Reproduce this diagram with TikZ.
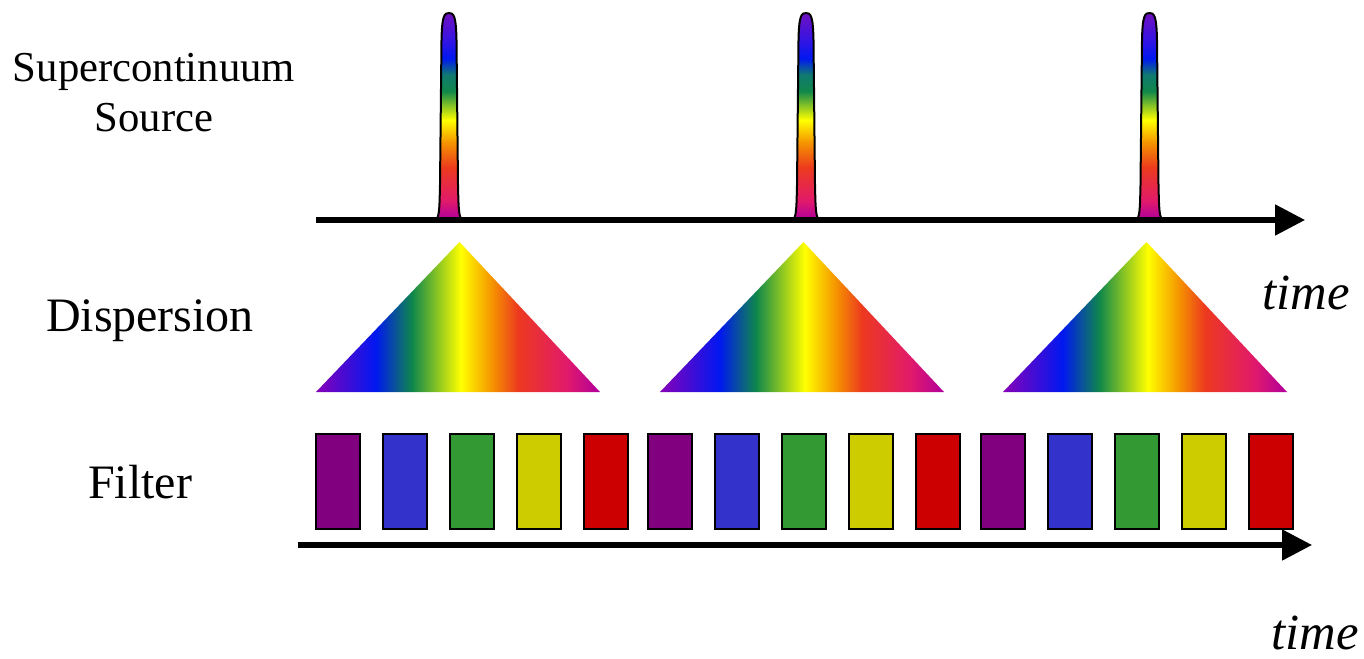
\documentclass[tikz,border=0pt]{standalone}
\usepackage{fontspec}
\setmainfont{Liberation Serif}
\newfontfamily\timesface{Liberation Serif}
\usetikzlibrary{arrows.meta}
\definecolor{fpurple}{HTML}{800080}
\definecolor{fblue}{HTML}{3333CC}
\definecolor{fgreen}{HTML}{339933}
\definecolor{fyellow}{HTML}{CCCC00}
\definecolor{fred}{HTML}{CC0000}
\definecolor{sviolet}{HTML}{8800B8}
\definecolor{sblue}{HTML}{0018F0}
\definecolor{steal}{HTML}{107A70}
\definecolor{sgreen}{HTML}{10884A}
\definecolor{syellow}{HTML}{FFFF00}
\definecolor{sorange}{HTML}{F59300}
\definecolor{sred}{HTML}{EC3A1E}
\definecolor{spink}{HTML}{E21A6A}
\definecolor{smagenta}{HTML}{B0009C}
\definecolor{pindigo}{HTML}{3A14E0}
\definecolor{ptop}{HTML}{7010C0}
% spread spectrum, left to right
\pgfdeclarehorizontalshading{spectrum}{100bp}{color(0bp)=(sviolet); color(25bp)=(sviolet);
  color(35.5bp)=(sblue); color(42bp)=(sgreen); color(50.5bp)=(syellow); color(56bp)=(sorange);
  color(60.5bp)=(sred); color(69bp)=(spink); color(75bp)=(smagenta); color(100bp)=(smagenta)}
% short pulse, bottom to top
\pgfdeclareverticalshading{pulsecolors}{100bp}{color(0bp)=(smagenta); color(25bp)=(smagenta);
  color(29.5bp)=(spink); color(37.5bp)=(sred); color(43.5bp)=(sorange); color(49bp)=(syellow);
  color(56bp)=(sgreen); color(60bp)=(steal); color(64bp)=(sblue); color(69bp)=(pindigo);
  color(75bp)=(ptop); color(100bp)=(ptop)}

\begin{document}
\begin{tikzpicture}[x=0.75pt,y=-0.75pt,
    rowlabel/.style={font=\timesface\fontsize{36}{40}\selectfont,anchor=base},
    timelabel/.style={font=\timesface\fontsize{38}{42}\selectfont\itshape,anchor=base},
    timeaxis/.style={line width=3.9pt,-{Triangle[length=22.5pt,width=22.5pt]}},
    pulse/.style={draw=black,line width=1.5pt,shading=pulsecolors},
    fan/.style={shading=spectrum},
    slot/.style={draw=black,line width=1.5pt}]
  \useasboundingbox (0,0) rectangle (1364,659);
  % labels
  \node[font=\timesface\fontsize{32}{37.5}\selectfont,align=center] (sc) at (154,93) {Supercontinuum\\Source};
  \node[rowlabel] (disp) at (150,332) {Dispersion};
  \node[rowlabel] (filt) at (140,498) {Filter};
  \node[timelabel] (time1) at (1306,310) {time};
  \node[timelabel] (time2) at (1315,649) {time};
  % pulses from the source
  \foreach \c in {449,806,1149.5}
    \path[pulse] (\c-12.5,219) .. controls (\c-9.5,216) and (\c-9.5,205) .. (\c-9,185)
      -- (\c-7.5,40) .. controls (\c-7,15) and (\c-4.5,13) .. (\c,13)
      .. controls (\c+4.5,13) and (\c+7,15) .. (\c+7.5,40)
      -- (\c+9,185) .. controls (\c+9.5,205) and (\c+9.5,216) .. (\c+12.5,219) -- cycle;
  \coordinate (top start) at (316,220);
  \coordinate (top end) at (1305,220);
  \draw[timeaxis] (top start) -- (top end);
  % dispersed pulses
  \foreach \l in {316,660,1003}
    \path[fan] (\l,392) -- (\l+143.5,242) -- (\l+284,392) -- cycle;
  % filter slots, five colours after each pulse
  \foreach \g in {316,648,981}
    \foreach \col [count=\i from 0] in {fpurple,fblue,fgreen,fyellow,fred}
      \draw[slot,fill=\col] (\g+67*\i,434) rectangle ++(44,95);
  \coordinate (low start) at (298,545);
  \coordinate (low end) at (1312,545);
  \draw[timeaxis] (low start) -- (low end);
\end{tikzpicture}
\end{document}
